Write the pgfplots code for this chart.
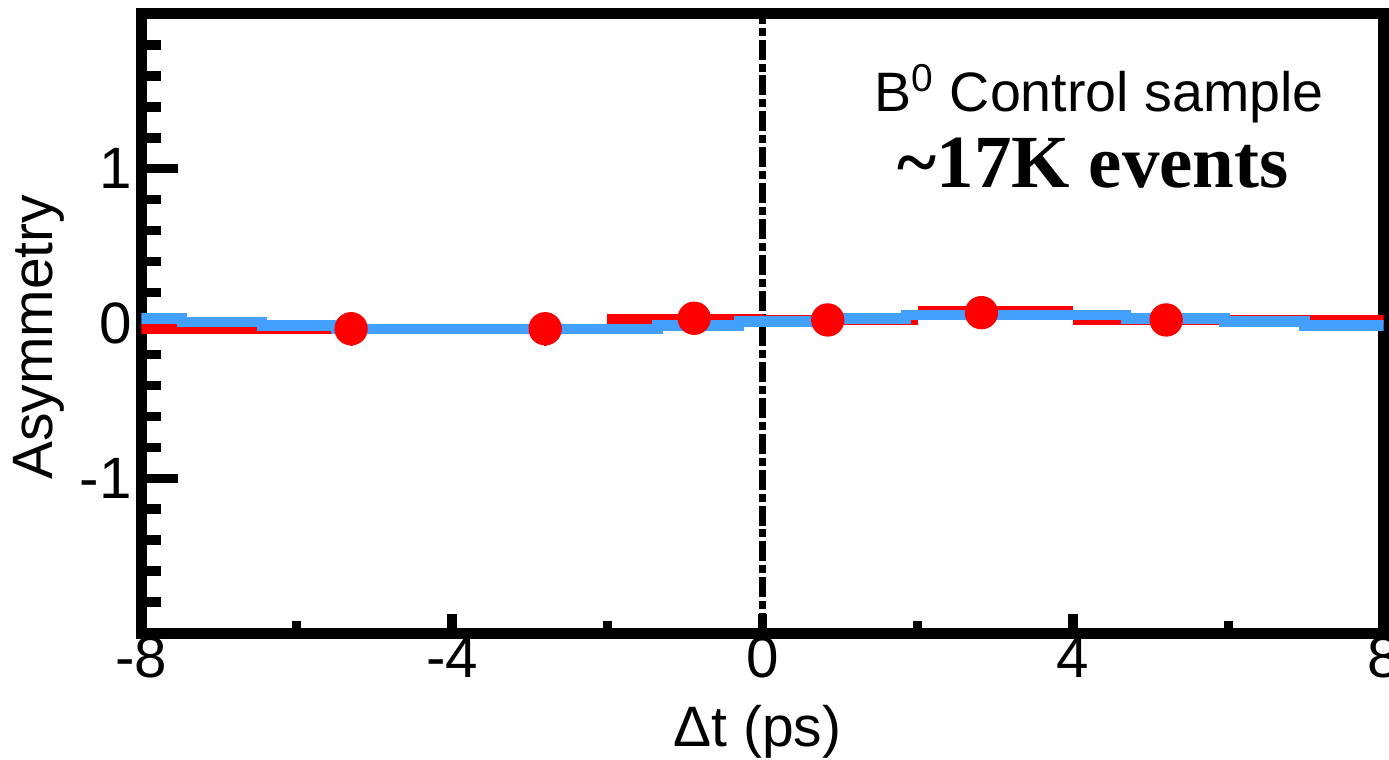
\documentclass[border=0pt]{standalone}
\usepackage{pgfplots}
\pgfplotsset{compat=1.18}
\usepackage{fontspec}
\setmainfont{Liberation Sans}
\newfontfamily\timesfont{Liberation Serif}
\definecolor{fitblue}{RGB}{68,160,255}
\definecolor{datared}{RGB}{255,0,0}
\begin{document}
\begin{tikzpicture}
\begin{axis}[
  name=ax,
  scale only axis,
  width=447.12pt, height=222.84pt,
  xmin=-8, xmax=8, ymin=-2, ymax=2,
  axis line style={line width=3.96pt},
  tick align=inside,
  xtick pos=left, ytick pos=left,
  xtick={-8,-4,0,4,8}, xticklabels={-8,-4,0,4,8},
  minor xtick={-6,-2,2,6},
  ytick={-1,0,1}, yticklabels={-1,0,1},
  minor ytick={-1.8,-1.6,-1.4,-1.2,-0.8,-0.6,-0.4,-0.2,0.2,0.4,0.6,0.8,1.2,1.4,1.6,1.8},
  tick style={line width=3.4pt, black},
  xtick style={/pgfplots/major tick length=6.8pt, /pgfplots/minor tick length=4.3pt},
  ytick style={/pgfplots/major tick length=13.1pt, /pgfplots/minor tick length=7pt},
  tick label style={font=\fontsize{21}{25}\selectfont},
  xticklabel style={yshift=2pt},
  /pgf/number format/assume math mode=true,
  xlabel={Δt (ps)},
  ylabel={Asymmetry},
  xlabel style={at={(axis description cs:0.496,-0.184)}, anchor=base, font=\fontsize{20.5}{24}\selectfont},
  ylabel style={at={(axis description cs:-0.072,0.478)}, anchor=base, rotate=0, font=\fontsize{20.5}{24}\selectfont},
]
% zero line
\addplot[black, line width=2.4pt, dash pattern=on 7.2pt off 1.4pt on 2.9pt off 1.4pt] coordinates {(0,-2) (0,2)};
% horizontal bin bars
\addplot[datared, line width=3.6pt] coordinates {(-8,-0.036) (-4,-0.036)};
\addplot[datared, line width=3.6pt] coordinates {(-4,-0.033) (-2,-0.033)};
\addplot[datared, line width=3.6pt] coordinates {(-2,0.032) (0,0.032)};
\addplot[datared, line width=3.6pt] coordinates {(0,0.023) (2,0.023)};
\addplot[datared, line width=3.6pt] coordinates {(2,0.078) (4,0.078)};
\addplot[datared, line width=3.6pt] coordinates {(4,0.023) (8,0.023)};
% fit curve
\addplot[fitblue, line width=3.8pt, const plot] coordinates {
  (-8,0.032) (-7.48,0.010) (-6.45,-0.012) (-5.49,-0.036) (-1.35,-0.012)
  (-0.30,0.012) (0.83,0.034) (1.85,0.056) (4.68,0.034) (5.95,0.012)
  (6.98,-0.012) (8,-0.012)};
% data points
\addplot[datared, only marks, mark=*, mark size=5.8pt,
  error bars/.cd, y dir=both, y explicit,
  error bar style={line width=1.1pt, datared}, error mark=none]
  coordinates {
  (-5.30,-0.034) +- (0,0.11)
  (-2.80,-0.034) +- (0,0.11)
  (-0.88,0.034) +- (0,0.09)
  (0.84,0.023) +- (0,0.09)
  (2.82,0.070) +- (0,0.09)
  (5.20,0.023) +- (0,0.09)};
\node[anchor=base, inner sep=0pt, font=\fontsize{20}{24}\selectfont] at (axis cs:4.335,1.367) {B\textsuperscript{0} Control sample};
\node[anchor=base, inner sep=0pt, font=\timesfont\bfseries\fontsize{27}{32}\selectfont] at (axis cs:4.26,0.882) {\textasciitilde 17K events};
\end{axis}
\pgfresetboundingbox
\path[use as bounding box] ([shift={(-50.94pt,-45.36pt)}]ax.south west) rectangle ([shift={(1.98pt,5.04pt)}]ax.north east);
\end{tikzpicture}
\end{document}
